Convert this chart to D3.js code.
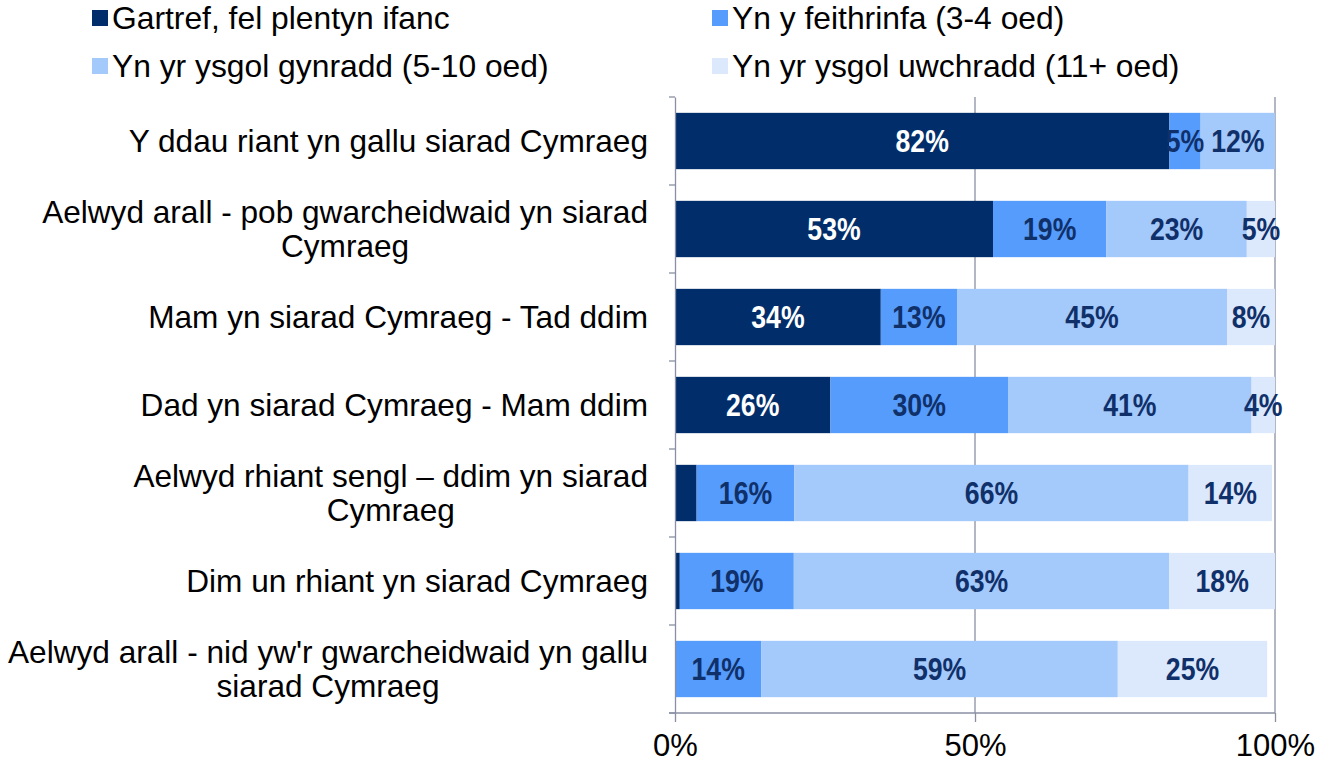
<!DOCTYPE html>
<html>
<head>
<meta charset="utf-8">
<script src="https://cdn.jsdelivr.net/npm/d3@7/dist/d3.min.js"></script>
<style>
  html, body { margin: 0; padding: 0; background: #ffffff; }
  svg { display: block; }
  text { font-family: "Liberation Sans", Arial, sans-serif; }
</style>
</head>
<body>
<svg id="chart" width="1328" height="765"></svg>
<script>
// ---- data ----
const categories = [
  ["Y ddau riant yn gallu siarad Cymraeg"],
  ["Aelwyd arall - pob gwarcheidwaid yn siarad", "Cymraeg"],
  ["Mam yn siarad Cymraeg - Tad ddim"],
  ["Dad yn siarad Cymraeg - Mam ddim"],
  ["Aelwyd rhiant sengl \u2013 ddim yn siarad", "Cymraeg"],
  ["Dim un rhiant yn siarad Cymraeg"],
  ["Aelwyd arall - nid yw'r gwarcheidwaid yn gallu", "siarad Cymraeg"]
];
const seriesNames = [
  "Gartref, fel plentyn ifanc",
  "Yn y feithrinfa (3-4 oed)",
  "Yn yr ysgol gynradd (5-10 oed)",
  "Yn yr ysgol uwchradd (11+ oed)"
];
const gartref    = [82.4, 53.0, 34.3, 25.9, 3.6, 0.8, 0.0];
const feithrinfa = [5.2, 18.9, 12.7, 29.6, 16.3, 19.0, 14.4];
const gynradd    = [12.4, 23.4, 45.0, 40.6, 65.7, 62.6, 59.4];
const uwchradd   = [0.0, 4.7, 8.0, 3.9, 13.9, 17.6, 24.9];
const xTicks = [0, 50, 100];
const tickLabels = ["0%", "50%", "100%"];

const colors = ["#012e6a", "#559cfc", "#a4c9fb", "#dce9fd"];
const labelColors = ["#ffffff", "#10306a", "#10306a", "#10306a"];
const axisColor = "#8a8fa3";

// ---- build table ----
const keys = ["s0", "s1", "s2", "s3"];
const seriesArrays = [gartref, feithrinfa, gynradd, uwchradd];
const table = categories.map((c, i) => {
  const row = { idx: i };
  keys.forEach((k, j) => row[k] = seriesArrays[j][i]);
  return row;
});
const stacked = d3.stack().keys(keys)(table);

const svg = d3.select("#chart");
const pLeft = 675, pRight = 1275, pTop = 97, pBottom = 713;

const x = d3.scaleLinear().domain([0, 100]).range([pLeft, pRight]);
const y = d3.scaleBand().domain(d3.range(categories.length)).range([pTop, pBottom])
  .paddingInner(0.36).paddingOuter(0.18);

// gridlines
svg.append("g").selectAll("line").data(xTicks.filter(t => t > 0)).join("line")
  .attr("x1", d => x(d)).attr("x2", d => x(d))
  .attr("y1", pTop).attr("y2", pBottom)
  .attr("stroke", axisColor).attr("stroke-width", 1.3);

// bars
const layers = svg.append("g").selectAll("g").data(stacked).join("g")
  .attr("fill", (d, i) => colors[i]);
layers.selectAll("rect").data(d => d).join("rect")
  .attr("x", d => x(d[0]))
  .attr("width", d => x(d[1]) - x(d[0]))
  .attr("y", (d, i) => y(i))
  .attr("height", y.bandwidth());

// bar labels (narrow bold look via horizontal scaling)
stacked.forEach((layer, si) => {
  svg.append("g").selectAll("text").data(layer.filter(d => (d[1] - d[0]) >= 3.8)).join("text")
    .attr("transform", d => `translate(${x((d[0] + d[1]) / 2)},${y(d.data.idx) + y.bandwidth() / 2}) scale(0.86,1)`)
    .attr("dy", "0.36em")
    .attr("text-anchor", "middle")
    .style("font-weight", "bold")
    .style("font-size", "31px")
    .attr("fill", labelColors[si])
    .text(d => Math.round(d[1] - d[0]) + "%");
});

// left axis
const yAxis = d3.axisLeft(y).tickSize(0).tickFormat("");
const gy = svg.append("g").attr("transform", `translate(${pLeft},0)`).call(yAxis);
gy.select(".domain").attr("stroke", axisColor).attr("stroke-width", 1.3);
const bounds = d3.range(categories.length + 1).map(i => pTop + i * y.step());
svg.append("g").selectAll("line").data(bounds).join("line")
  .attr("x1", pLeft - 6).attr("x2", pLeft)
  .attr("y1", d => d).attr("y2", d => d)
  .attr("stroke", axisColor).attr("stroke-width", 1.3);

// bottom axis
const xAxis = d3.axisBottom(x).tickValues(xTicks).tickSize(9).tickSizeOuter(0)
  .tickFormat((d, i) => tickLabels[i]);
const gx = svg.append("g").attr("transform", `translate(0,${pBottom})`).call(xAxis);
gx.select(".domain").attr("stroke", axisColor).attr("stroke-width", 1.3)
  .attr("d", `M${pLeft - 6},0H${pRight}`);
gx.selectAll(".tick line").attr("stroke", axisColor).attr("stroke-width", 1.3);
gx.selectAll(".tick text").attr("fill", "#000").style("font-size", "31px")
  .style("font-family", '"Liberation Sans", Arial, sans-serif')
  .attr("y", 21).attr("dy", "0.71em");

// category labels
const catG = svg.append("g");
categories.forEach((lines, i) => {
  const g = catG.append("g");
  const lh = 34;
  const cy = y(i) + y.bandwidth() / 2;
  const texts = lines.map((ln, k) => g.append("text")
    .attr("y", cy + (k - (lines.length - 1) / 2) * lh)
    .attr("dy", "0.36em")
    .attr("text-anchor", "middle")
    .style("font-size", "31.6px")
    .attr("fill", "#000")
    .text(ln));
  const maxW = d3.max(texts, t => t.node().getComputedTextLength());
  texts.forEach(t => t.attr("x", 648 - maxW / 2));
});

// legend
const legendPos = [
  { x: 92, y: 18 }, { x: 712, y: 18 },
  { x: 92, y: 66 }, { x: 712, y: 66 }
];
const lg = svg.append("g");
seriesNames.forEach((name, i) => {
  const p = legendPos[i];
  lg.append("rect").attr("x", p.x).attr("y", p.y - 8).attr("width", 16).attr("height", 16)
    .attr("fill", colors[i]);
  lg.append("text").attr("x", p.x + 20).attr("y", p.y).attr("dy", "0.36em")
    .style("font-size", "31.8px").attr("fill", "#000").text(name);
});
</script>
</body>
</html>
